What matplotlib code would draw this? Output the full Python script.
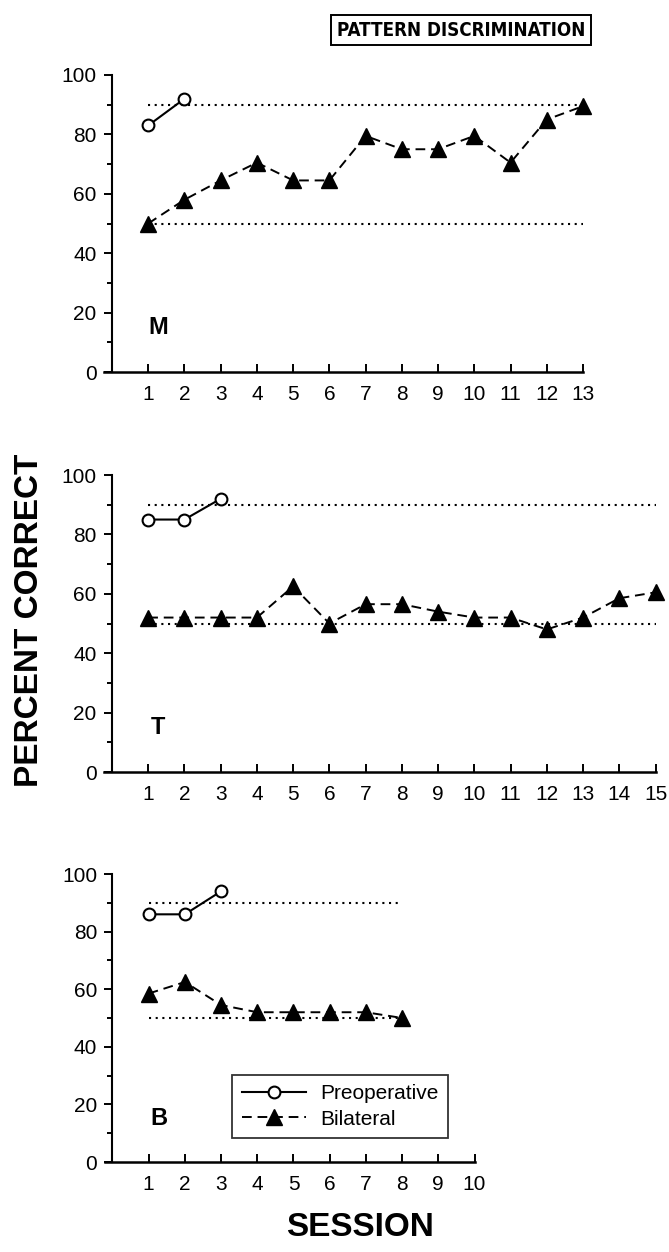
import numpy as np
import matplotlib
matplotlib.use("Agg")
import matplotlib.pyplot as plt
from matplotlib import font_manager
from matplotlib.ticker import MultipleLocator

plt.rcParams['font.family'] = ['Liberation Sans', 'DejaVu Sans']

# data (percent correct per session)
m_pre = [83, 92]
m_bil = [50, 58, 64.5, 70.5, 64.5, 64.5, 79.5, 75, 75, 79.5, 70.5, 85, 89.5]
t_pre = [85, 85, 92]
t_bil = [52, 52, 52, 52, 62.5, 50, 56.5, 56.5, 54, 52, 52, 48, 52, 58.5, 60.5]
b_pre = [86, 86, 94]
b_bil = [58.5, 62.5, 54.5, 52, 52, 52, 52, 50]

# criterion (90%) and chance (50%) levels
criterion = 90
chance = 50

W, H = 669, 1252
fig = plt.figure(figsize=(W / 100, H / 100), dpi=100)


def px_axes(left, right, top, bottom):
    return fig.add_axes([left / W, 1 - bottom / H, (right - left) / W, (bottom - top) / H])


def panel(ax, pre, bil, nsess, line_end, letter):
    s_pre = np.arange(1, len(pre) + 1)
    s_bil = np.arange(1, len(bil) + 1)
    ax.hlines([criterion, chance], 1, line_end, colors='black',
              linestyles=(0, (1, 2.2)), lw=1.5)
    ax.plot(s_bil, bil, color='black', ls=(0, (5, 3)), lw=1.4, marker='^',
            ms=11, mfc='black', mec='black', clip_on=False, zorder=3,
            label='Bilateral')
    ax.plot(s_pre, pre, color='black', ls='-', lw=1.5, marker='o', ms=8.5,
            mfc='white', mec='black', mew=1.5, clip_on=False, zorder=4,
            label='Preoperative')
    ax.set_xlim(-0.22, nsess)
    ax.set_ylim(0, 100)
    ax.spines['top'].set_visible(False)
    ax.spines['right'].set_visible(False)
    ax.spines['left'].set_position(('data', 0))
    ax.spines['left'].set_linewidth(1.5)
    ax.spines['bottom'].set_linewidth(1.8)
    ax.set_xticks(np.arange(1, nsess + 1))
    ax.set_yticks(np.arange(0, 101, 20))
    ax.yaxis.set_minor_locator(MultipleLocator(10))
    ax.tick_params(axis='x', direction='in', length=5.5, width=1.4, pad=9,
                   labelsize=15)
    ax.tick_params(axis='y', which='major', direction='out', length=6,
                   width=1.4, pad=5, labelsize=15)
    ax.tick_params(axis='y', which='minor', direction='out', length=3.5,
                   width=1.4)
    ax.text(1.27, 15, letter, fontsize=17, fontweight='bold', ha='center',
            va='center')
    ax.patch.set_visible(False)


axM = px_axes(104, 583, 75, 372)
panel(axM, m_pre, m_bil, 13, 13, 'M')

axT = px_axes(104, 655.5, 475, 772)
panel(axT, t_pre, t_bil, 15, 15, 'T')

axB = px_axes(104.5, 474.5, 874, 1162)
panel(axB, b_pre, b_bil, 10, 7.9, 'B')

h, l = axB.get_legend_handles_labels()
leg = axB.legend(h[::-1], l[::-1], loc='lower left', bbox_to_anchor=(0.345, 0.083),
                 borderaxespad=0, fontsize=15, frameon=True, fancybox=False,
                 handlelength=3.1, handletextpad=0.7, borderpad=0.45,
                 labelspacing=0.3, numpoints=1)
leg.get_frame().set_edgecolor('black')
leg.get_frame().set_linewidth(1.3)

# use a narrow bold face for the boxed title if one is installed
narrow = [f for f in font_manager.fontManager.ttflist
          if f.weight in ('bold', 700) and
          ('Narrow' in f.name or 'Condensed' in f.name or 'condensed' in str(f.stretch))]
if narrow:
    title_font = font_manager.FontProperties(fname=narrow[0].fname, size=13.5)
else:
    title_font = font_manager.FontProperties(family='Liberation Sans', weight='bold', size=12.5)

fig.text(461 / W, 1 - 30 / H, 'PATTERN DISCRIMINATION', fontproperties=title_font,
         ha='center', va='center',
         bbox=dict(boxstyle='square,pad=0.3', fc='white', ec='black', lw=1.4))
fig.text(30 / W, 1 - 620 / H, 'PERCENT CORRECT', fontsize=24,
         fontweight='bold', rotation=90, ha='center', va='center')
fig.text(360 / W, 1 - 1228 / H, 'SESSION', fontsize=24, fontweight='bold',
         ha='center', va='center')

fig.savefig('out.png', dpi=100, facecolor='white')
